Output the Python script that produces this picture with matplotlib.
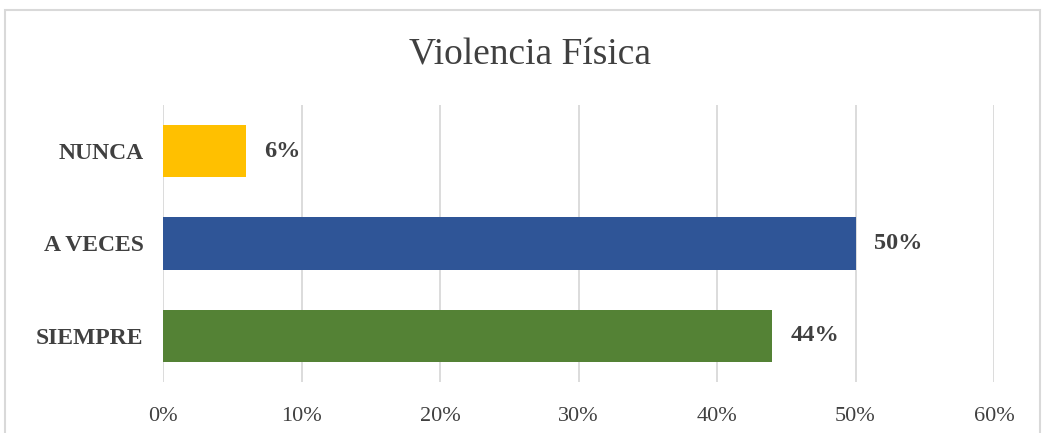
import matplotlib.pyplot as plt
from matplotlib.patches import Rectangle
from matplotlib.ticker import PercentFormatter

# data
categorias = ['SIEMPRE', 'A VECES', 'NUNCA']
valores = [0.44, 0.50, 0.06]
colores = ['#548235', '#2F5597', '#FFC000']
ticks_x = [0, 0.1, 0.2, 0.3, 0.4, 0.5, 0.6]

plt.rcParams['font.family'] = ['Liberation Serif', 'DejaVu Serif']
texto = '#404040'

fig = plt.figure(figsize=(10.49, 4.33), dpi=100)
ax = fig.add_axes([0.1554, 0.1178, 0.7922, 0.6397])

# outer chart frame
fig.patches.append(Rectangle((5 / 1049, -0.1), 1035 / 1049, 1.1 - 10 / 433,
                             transform=fig.transFigure, fill=False,
                             edgecolor='#D9D9D9', linewidth=1.5))

pos = range(len(categorias))
ax.barh(pos, valores, height=0.57, color=colores, zorder=3)

for p, v in zip(pos, valores):
    ax.text(v + 0.013, p, f'{v:.0%}', va='center', ha='left',
            fontsize=17.5, fontweight='bold', color=texto)

ax.set_xlim(0, 0.6)
ax.set_ylim(-0.5, 2.5)
ax.set_xticks(ticks_x)
ax.xaxis.set_major_formatter(PercentFormatter(1.0, decimals=0))
ax.set_yticks(list(pos))
ax.set_yticklabels(categorias, fontsize=17, fontweight='bold', color=texto)
ax.tick_params(axis='x', length=0, pad=18, labelsize=16, labelcolor=texto)
ax.tick_params(axis='y', length=0, pad=14)
ax.grid(axis='x', color='#D9D9D9', linewidth=1.3, zorder=0)
for s in ax.spines.values():
    s.set_visible(False)

fig.text(0.505, 0.872, 'Violencia Física', ha='center', va='center',
         fontsize=27, color=texto)

fig.savefig('out.png', dpi=100)
